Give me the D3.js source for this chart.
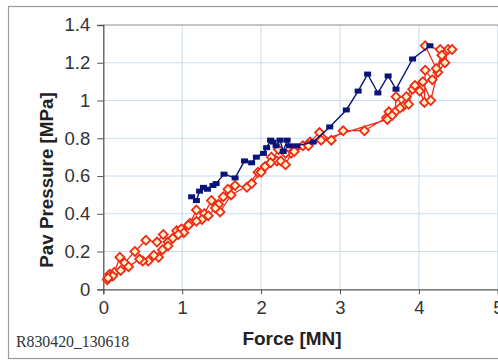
<!DOCTYPE html>
<html>
<head>
<meta charset="utf-8">
<script src="https://cdn.jsdelivr.net/npm/d3@7"></script>
<style>
  html, body { margin: 0; padding: 0; background: #fff; }
  svg { display: block; }
</style>
</head>
<body>
<svg id="chart" width="498" height="360"></svg>
<script>
// Axis ticks
const xTicks = [0, 1, 2, 3, 4, 5];
const yTicks = [0, 0.2, 0.4, 0.6, 0.8, 1, 1.2, 1.4];

// Blue series: force [MN] and pressure [MPa]
const blueForce = [1.12, 1.18, 1.22, 1.27, 1.32, 1.39, 1.43, 1.53, 1.67, 1.79, 1.88, 1.94, 2.03, 2.07, 2.12, 2.15, 2.19, 2.24, 2.28, 2.33, 2.36, 2.45, 2.66, 2.87, 3.08, 3.23, 3.35, 3.48, 3.61, 3.71, 3.92, 4.14];
const bluePressure = [0.49, 0.47, 0.52, 0.54, 0.53, 0.55, 0.56, 0.61, 0.59, 0.68, 0.67, 0.70, 0.72, 0.75, 0.79, 0.78, 0.76, 0.79, 0.73, 0.79, 0.76, 0.76, 0.78, 0.86, 0.95, 1.05, 1.14, 1.04, 1.13, 1.06, 1.22, 1.29];

// Red series: force [MN] and pressure [MPa]
const redForce = [0.05, 0.08, 0.14, 0.21, 0.27, 0.40, 0.54, 0.68, 0.76, 0.82, 0.93, 0.99, 1.10, 1.18, 1.28, 1.37, 1.46, 1.52, 1.58, 1.67, 1.82, 1.96, 2.05, 2.13, 2.20, 2.25, 2.31, 2.38, 2.53, 2.62, 2.74, 2.78, 2.89, 3.04, 3.31, 3.59, 3.62, 3.70, 3.71, 3.80, 3.87, 3.92, 4.01, 4.07, 4.08, 4.17, 4.24, 4.33, 4.37, 4.42, 4.27, 4.08,
  4.22, 4.29, 4.15, 4.05, 3.95, 3.84, 3.76, 3.66, 3.60, 2.76, 2.60, 2.42, 2.31, 2.22, 2.12, 2.00, 1.88, 1.62, 1.48, 1.42, 1.33, 1.25, 1.18, 1.08, 1.02, 0.95, 0.88, 0.82, 0.75, 0.70, 0.64, 0.57, 0.50, 0.46, 0.32, 0.22, 0.12, 0.06];
const redPressure = [0.05, 0.08, 0.09, 0.17, 0.14, 0.20, 0.26, 0.25, 0.29, 0.25, 0.31, 0.32, 0.35, 0.42, 0.40, 0.47, 0.45, 0.49, 0.53, 0.55, 0.54, 0.62, 0.65, 0.70, 0.68, 0.68, 0.66, 0.72, 0.76, 0.78, 0.83, 0.80, 0.79, 0.84, 0.84, 0.91, 0.94, 0.94, 1.02, 0.97, 0.98, 1.06, 1.05, 0.99, 1.16, 1.11, 1.15, 1.20, 1.27, 1.27, 1.27, 1.29,
  1.17, 1.24, 1.00, 1.10, 1.08, 1.02, 0.96, 0.92, 0.90, 0.79, 0.76, 0.73, 0.72, 0.74, 0.67, 0.62, 0.56, 0.50, 0.41, 0.43, 0.39, 0.37, 0.36, 0.34, 0.30, 0.29, 0.27, 0.23, 0.21, 0.17, 0.18, 0.15, 0.15, 0.16, 0.12, 0.10, 0.07, 0.06];

const xLabel = "Force [MN]";
const yLabel = "Pav Pressure [MPa]";
const footnote = "R830420_130618";

const svg = d3.select("#chart");
const W = 498, H = 360;

// Outer chart frame
svg.append("rect")
  .attr("x", 8.5).attr("y", 6.5)
  .attr("width", W + 20).attr("height", 352)
  .attr("fill", "#fff").attr("stroke", "#9a9a9a").attr("stroke-width", 1.2);

const x = d3.scaleLinear().domain([0, 5]).range([103.3, 497.8]);
const y = d3.scaleLinear().domain([0, 1.4]).range([289.3, 25]);

// Gridlines
const grid = svg.append("g");
grid.selectAll("line.v").data(xTicks.filter(d => d > 0))
  .join("line")
  .attr("x1", d => x(d)).attr("x2", d => x(d))
  .attr("y1", y(0)).attr("y2", y(1.4))
  .attr("stroke", "#c9dcec").attr("stroke-width", 1);
grid.selectAll("line.h").data(yTicks.filter(d => d > 0 && d < 1.4))
  .join("line")
  .attr("x1", x(0)).attr("x2", W)
  .attr("y1", d => y(d)).attr("y2", d => y(d))
  .attr("stroke", "#c9dcec").attr("stroke-width", 1);
// Plot area top border
svg.append("line")
  .attr("x1", x(0)).attr("x2", W)
  .attr("y1", y(1.4)).attr("y2", y(1.4))
  .attr("stroke", "#8c8c8c").attr("stroke-width", 1);

// Axes
const xAxis = d3.axisBottom(x).tickValues(xTicks).tickSize(5).tickPadding(7)
  .tickFormat(d3.format("d"));
const yAxis = d3.axisLeft(y).tickValues(yTicks).tickSize(6).tickPadding(7)
  .tickFormat(d => d3.format("")(+d.toFixed(1)));

const gx = svg.append("g").attr("transform", `translate(0,${y(0)})`).call(xAxis);
const gy = svg.append("g").attr("transform", `translate(${x(0)},0)`).call(yAxis);
[gx, gy].forEach(g => {
  g.select(".domain").attr("stroke", "#555").attr("stroke-width", 1.3);
  g.selectAll(".tick line").attr("stroke", "#555").attr("stroke-width", 1);
  g.selectAll(".tick text")
    .attr("font-family", "Liberation Sans, Arial, sans-serif")
    .attr("font-size", 18.5).attr("fill", "#333");
});

// Red series
const redPts = redForce.map((f, i) => [f, redPressure[i]]);
const bluePts = blueForce.map((f, i) => [f, bluePressure[i]]);
const line = d3.line().x(d => x(d[0])).y(d => y(d[1]));

svg.append("path").datum(redPts)
  .attr("d", line).attr("fill", "none")
  .attr("stroke", "#f02a18").attr("stroke-width", 1.3);

svg.append("g").selectAll("path").data(redPts).join("path")
  .attr("transform", d => `translate(${x(d[0])},${y(d[1])}) rotate(45)`)
  .attr("d", d3.symbol().type(d3.symbolSquare).size(40))
  .attr("fill", "#fff4c8").attr("stroke", "#f02a18").attr("stroke-width", 1.8);

// Blue series
svg.append("path").datum(bluePts)
  .attr("d", line).attr("fill", "none")
  .attr("stroke", "#0a1478").attr("stroke-width", 1.4);
svg.append("g").selectAll("rect").data(bluePts).join("rect")
  .attr("x", d => x(d[0]) - 3.5).attr("y", d => y(d[1]) - 2.5)
  .attr("width", 7).attr("height", 5)
  .attr("fill", "#0a1478");

// Axis titles
svg.append("text")
  .attr("x", 292).attr("y", 345)
  .attr("text-anchor", "middle")
  .attr("font-family", "Liberation Sans, Arial, sans-serif")
  .attr("font-weight", "bold").attr("font-size", 19)
  .attr("fill", "#222")
  .text(xLabel);
svg.append("text")
  .attr("transform", "translate(52.5,180) rotate(-90)")
  .attr("text-anchor", "middle")
  .attr("font-family", "Liberation Sans, Arial, sans-serif")
  .attr("font-weight", "bold").attr("font-size", 18.8)
  .attr("fill", "#222")
  .text(yLabel);

// Footnote
svg.append("text")
  .attr("x", 16).attr("y", 347)
  .attr("font-family", "Liberation Serif, Times New Roman, serif")
  .attr("font-size", 15.8).attr("fill", "#333")
  .text(footnote);
</script>
</body>
</html>
